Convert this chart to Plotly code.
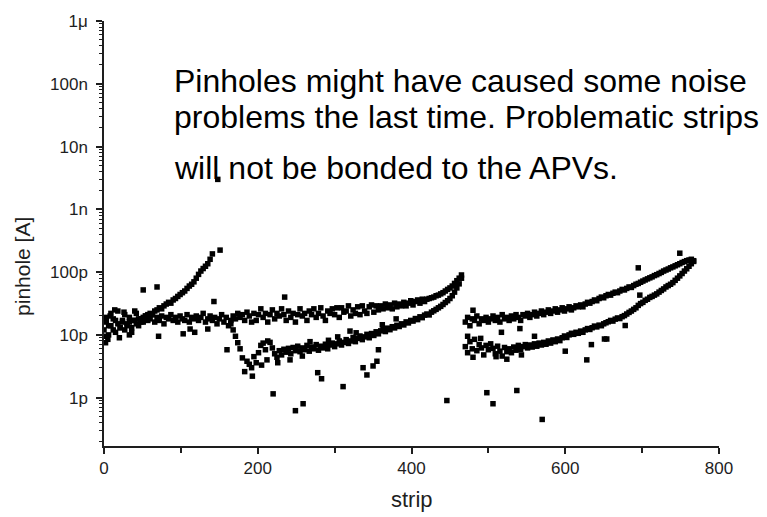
import plotly.graph_objects as go

# ---------------- data (strip index, current in pA) ----------------
# Region 1, flat / upper band
u1_strip = [0,3,6,9,12,15,18,21,24,27,30,33,36,39,42,45,48,51,54,57,
            60,63,66,69,72,75,78,81,84,87,90,93,96,99,102,105,108,111,114,117,
            120,123,126,129,132,135,138,141,144,147,150,153,156,159,162,165,168,171,174,177,
            180,183,186,189,192,195,198,201,204,207,210,213,216,219,222,225,228,231,234,237,
            240,243,246,249,252,255,258,261,264,267,270,273,276,279,282,285,288,291,294,297,
            300,303,306,309,312,315,318,321,324,327,330,333,336,339,342,345,348,351,354,357,
            360,363,366,369,372,375,378,381,384,387,390,393,396,399,402,405,408,411,414,417,
            420,423,426,429,432,435,438,441,444,447,450,453,456,459,462,465]
u1_pA = [9.5,19,14,22,12,17,24,13,16,21,15,19,11,17,22,14,18,16,20,17,
         18,21,16,19,17,20,15,19,18,21,17,19,16,20,18,17,21,16,19,18,
         20,17,19,22,16,18,20,17,19,15,18,21,16,19,14,17,20,18,22,19,
         21,17,23,20,16,22,17,21,26,19,22,16,21,25,18,22,20,26,21,17,
         24,19,22,16,21,26,20,22,17,24,21,26,19,22,27,20,17,24,22,26,
         21,27,19,27,23,24,29,20,25,22,28,21,29,24,22,28,30,23,29,25,
         29,26,31,27,30,26,32,28,31,29,33,29,32,35,30,34,36,32,37,34,
         37,38,39,40,42,43,45,47,50,53,56,60,66,73,80,90]

# Region 1, rising branch
r1_strip = [0,3,6,9,12,15,18,21,24,27,30,33,36,39,42,45,48,51,54,57,
            60,63,66,69,72,75,78,81,84,87,90,93,96,99,102,105,108,111,114,117,
            120,123,126,129,132,135,138,141]
r1_pA = [12,16,10,14,18,11,15,13,17,12,14,16,13,17,15,18,16,19,20,21,
         22,21,24,25,27,26,29,31,33,32,36,38,41,44,47,50,55,60,64,70,
         80,92,104,114,124,136,160,195]

# Region 1, lower band
l1_strip = [165,168,171,174,177,180,183,186,189,192,195,198,201,204,207,210,213,216,219,222,
            225,228,231,234,237,240,243,246,249,252,255,258,261,264,267,270,273,276,279,282,
            285,288,291,294,297,300,303,306,309,312,315,318,321,324,327,330,333,336,339,342,
            345,348,351,354,357,360,363,366,369,372,375,378,381,384,387,390,393,396,399,402,
            405,408,411,414,417,420,423,426,429,432,435,438,441,444,447,450,453,456,459,462,465]
l1_pA = [15,12,9.5,7.5,6,4.3,2.6,3.8,3.4,3.0,4.5,3.6,5.2,6.8,7.4,5.8,8.0,7.6,6.2,5.0,
         4.4,5.6,4.8,5.9,5.3,6.1,5.0,6.3,5.6,6.6,5.4,6.2,5.8,6.8,5.5,6.4,6.0,7.0,5.7,6.6,
         6.2,7.1,6.0,6.9,7.4,6.5,7.2,8.0,6.9,7.6,8.4,7.3,8.0,9.1,7.8,8.8,9.6,8.4,9.3,10.2,
         9.0,10.5,9.8,11.2,10.4,11.6,12.4,11.3,12.8,12.1,13.5,12.9,14.2,13.6,15.0,14.4,16.1,15.5,17.0,16.6,
         18.2,17.5,19.4,18.8,20.6,21.5,20.8,23.0,24.2,25.5,27.0,28.5,30.5,32.8,35.0,38.0,42.0,48.0,56.0,65.0,80]

# Region 2, upper band
u2_strip = [470,473,476,479,482,485,488,491,494,497,500,503,506,509,512,515,518,521,524,527,
            530,533,536,539,542,545,548,551,554,557,560,563,566,569,572,575,578,581,584,587,
            590,593,596,599,602,605,608,611,614,617,620,623,626,629,632,635,638,641,644,647,
            650,653,656,659,662,665,668,671,674,677,680,683,686,689,692,695,698,701,704,707,
            710,713,716,719,722,725,728,731,734,737,740,743,746,749,752,755,758,761,764,767]
u2_pA = [16,19,14,18,17,20,15,18,17,19,16,18,20,17,19,16,21,18,19,17,
         20,18,21,19,17,21,20,22,19,21,23,20,22,24,21,23,25,22,24,26,
         23,25,27,24,26,28,25,27,29,28,30,28,31,33,32,34,36,35,38,40,
         39,42,44,43,46,48,47,50,53,52,55,58,57,61,64,66,69,72,75,78,
         81,84,88,91,95,99,104,108,112,117,121,126,131,136,142,147,152,156,160,152]

# Region 2, lower band
l2_strip = [470,473,476,479,482,485,488,491,494,497,500,503,506,509,512,515,518,521,524,527,
            530,533,536,539,542,545,548,551,554,557,560,563,566,569,572,575,578,581,584,587,
            590,593,596,599,602,605,608,611,614,617,620,623,626,629,632,635,638,641,644,647,
            650,653,656,659,662,665,668,671,674,677,680,683,686,689,692,695,698,701,704,707,
            710,713,716,719,722,725,728,731,734,737,740,743,746,749,752,755,758,761,764,767]
l2_pA = [6.5,5.2,7.8,6.0,8.5,5.6,7.0,6.2,4.8,6.8,5.8,7.2,6.1,5.0,6.6,5.5,4.6,6.3,5.4,6.0,
         5.2,6.4,5.7,6.8,5.9,6.5,7.0,6.2,6.9,6.4,7.2,6.6,7.4,6.9,7.6,7.1,8.0,7.4,8.3,7.8,
         8.6,8.1,9.0,9.6,9.1,10.0,10.6,10.2,11.0,10.6,11.5,11.0,12.0,12.6,12.2,13.0,13.8,13.4,14.3,14.0,
         15.0,15.6,16.2,17.0,16.6,17.8,18.6,18.2,19.5,20.3,21.5,22.8,24.0,25.5,27.0,29.5,31.5,33.0,35.5,37.0,
         39.5,41.0,43.0,45.0,48.0,51.0,54.0,58.0,61.0,64.0,68,74,80,87,95,104,113,124,136,148]

# Isolated / scattered points
out_strip = [51,69,71,103,112,118,135,143,151,148,160,235,220,249,259,278,283,311,304,337,
             342,350,355,357,446,498,506,537,570,628,634,654,695,749,697,480,517,541,543,524,651,678,
             2,5,8,14,20,26,33,40,193,205,212,226,242,258,268,292,320,328,362,380,
             473,480,490,510,560,600]
out_pA = [52,58,9.5,10.4,12.4,11,12.4,34,224,3000,5.8,40,1.15,0.62,0.8,2.5,2.0,1.5,9.3,3.0,
          2.3,3.2,3.8,5.8,0.9,1.2,0.8,1.3,0.45,4.0,7.0,8.6,117,200,43,24.7,11,12.6,4.8,4.1,8.6,14.1,
          7.5,8.5,20,25,9,23,10,24,2.2,3.3,4.0,3.6,4.0,4.6,7.8,8.2,11.5,10.8,14.5,18,
          9.5,4.4,8.8,4.5,9.5,5.5]

y_tick_vals = [1, 10, 100, 1e3, 1e4, 1e5, 1e6]
y_tick_text = ["1p", "10p", "100p", "1n", "10n", "100n", "1\u03bc"]

note_lines = ["Pinholes might have caused some noise",
              "problems the last time. Problematic strips",
              "will not be bonded to the APVs."]

# ---------------- figure ----------------
FONT = "Liberation Sans, Arial, sans-serif"
INK = "#1e1e1e"

fig = go.Figure()
for xs, ys in [(u1_strip, u1_pA), (r1_strip, r1_pA), (l1_strip, l1_pA),
               (u2_strip, u2_pA), (l2_strip, l2_pA), (out_strip, out_pA)]:
    fig.add_trace(go.Scatter(x=xs, y=ys, mode="markers",
                             marker=dict(symbol="square", size=5.5, color="black",
                                         line=dict(width=0)),
                             showlegend=False, hoverinfo="x+y"))

minor_y = [m * 10 ** e for e in range(-1, 6) for m in range(2, 10)]

fig.update_layout(
    width=767, height=517,
    margin=dict(l=104, r=48, t=14, b=71),
    paper_bgcolor="white", plot_bgcolor="white",
    font=dict(family=FONT, color=INK, size=17),
    xaxis=dict(range=[0, 800], tick0=0, dtick=200, showgrid=False, zeroline=False,
               showline=True, linecolor=INK, linewidth=1.5,
               ticks="outside", ticklen=6, tickwidth=1.5, tickcolor=INK,
               tickfont=dict(size=17, family=FONT, color=INK),
               minor=dict(ticks="outside", ticklen=5, tickwidth=1.5, tickcolor=INK,
                          dtick=100, tick0=0, showgrid=False)),
    yaxis=dict(type="log", range=[-0.77, 6.0], showgrid=False, zeroline=False,
               showline=True, linecolor=INK, linewidth=1.5,
               tickmode="array", tickvals=y_tick_vals, ticktext=y_tick_text,
               ticks="outside", ticklen=6, tickwidth=1.5, tickcolor=INK,
               ticklabelstandoff=5,
               tickfont=dict(size=17, family=FONT, color=INK),
               minor=dict(tickmode="array", tickvals=minor_y, ticks="outside",
                          ticklen=3, tickwidth=1, tickcolor=INK, showgrid=False)),
)

for txt, yp in zip(note_lines, [0.8588, 0.7731, 0.6551]):
    fig.add_annotation(text=txt, xref="paper", yref="paper", x=0.1106, y=yp,
                       xanchor="left", yanchor="middle", showarrow=False,
                       font=dict(size=32, family=FONT, color="black"))

fig.add_annotation(text="strip", xref="paper", yref="paper", x=0.5, y=-0.125,
                   xanchor="center", yanchor="middle", showarrow=False,
                   font=dict(size=22, family=FONT, color=INK))
fig.add_annotation(text="pinhole [A]", xref="paper", yref="paper", x=-0.1317, y=0.4213,
                   xanchor="center", yanchor="middle", textangle=-90, showarrow=False,
                   font=dict(size=21, family=FONT, color=INK))

fig.write_html("out.html")
